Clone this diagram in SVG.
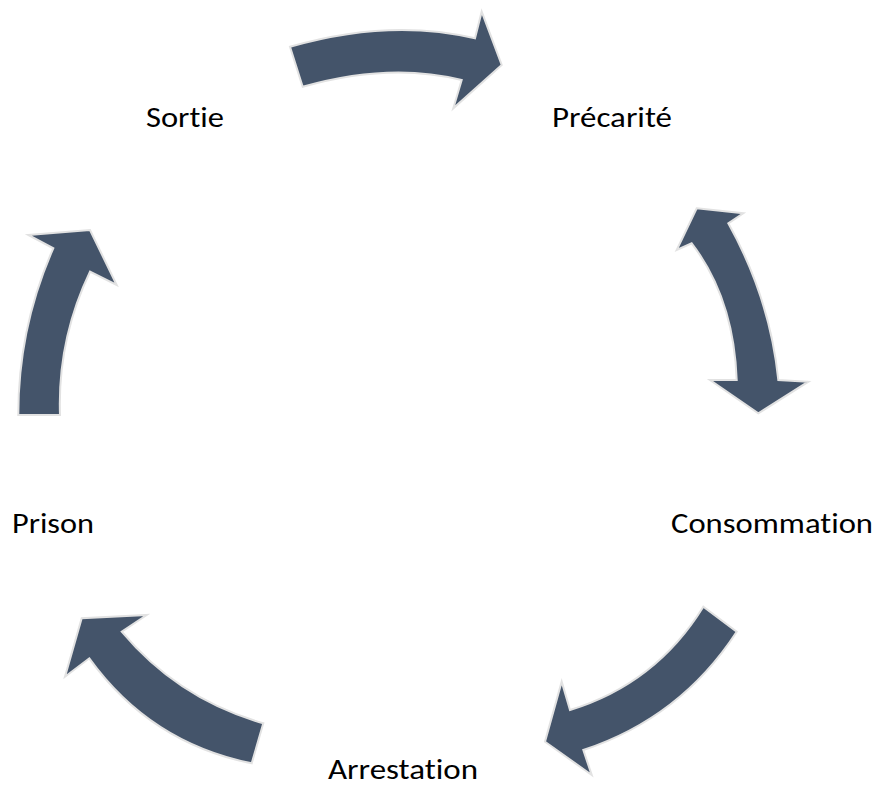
<svg xmlns="http://www.w3.org/2000/svg" width="881" height="787" viewBox="0 0 881 787">
<style>
.arrow{fill:#44546A;stroke:#e2e2e2;stroke-width:2;stroke-linejoin:miter}
.lbl{font-family:Carlito,Calibri,Lato,"Liberation Sans",sans-serif;font-size:29px;fill:#000;font-variant-ligatures:none}
</style>
<rect width="881" height="787" fill="#fff"/>
<g id="connectors">
<path class="arrow" d="M290,46.7 Q390,18 475,38.3 L481.7,11.7 L501.7,65 L453.3,108.3 L461.7,80 Q390,62 302.7,86.7 Z"/>
<path class="arrow" d="M696.7,208.3 L743.3,213.3 L728.3,223.3 Q770,298.3 778.3,380 L808.3,381.7 L758.3,413.3 L710,380 L736.7,380 Q733.8,298.3 691.7,243.3 L676.7,250 Z"/>
<path class="arrow" d="M703.3,606.7 Q656,683.6 570,710 L561.7,681.7 L545,741.7 L591.7,775 L583.3,750 Q680.7,717.7 736.7,631.7 Z"/>
<path class="arrow" d="M263.3,723.3 Q178.5,699.3 121.7,631.7 L146.7,615 L81.7,618.3 L65,676.7 L89.3,658.3 Q150,742.7 251.7,763.3 Z"/>
<path class="arrow" d="M18.3,415 Q18.2,328 53.3,248.3 L28.3,235 L90,230 L116.7,285 L90,271.7 Q57.4,339.6 60,415 Z"/>
</g>
<g id="node-sortie"><text class="lbl" x="146" y="127" textLength="78" lengthAdjust="spacingAndGlyphs">Sortie</text></g>
<g id="node-precarite"><text class="lbl" x="552" y="127" textLength="120" lengthAdjust="spacingAndGlyphs">Précarité</text></g>
<g id="node-consommation"><text class="lbl" x="671" y="533" textLength="202" lengthAdjust="spacingAndGlyphs">Consommation</text></g>
<g id="node-arrestation"><text class="lbl" x="328" y="779" textLength="150" lengthAdjust="spacingAndGlyphs">Arrestation</text></g>
<g id="node-prison"><text class="lbl" x="12" y="533" textLength="82" lengthAdjust="spacingAndGlyphs">Prison</text></g>
</svg>
